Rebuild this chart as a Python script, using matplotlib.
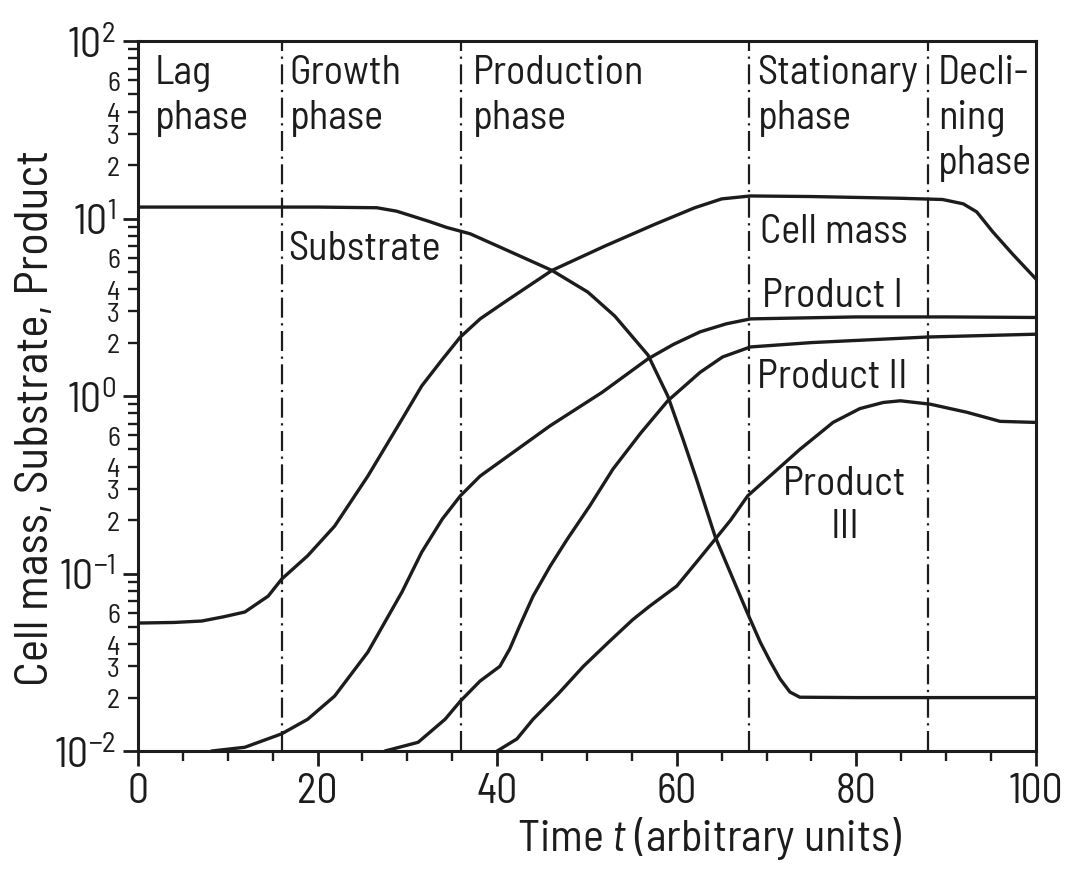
import matplotlib.pyplot as plt
from matplotlib import font_manager
from matplotlib.ticker import FixedLocator, FuncFormatter, LogLocator, MultipleLocator
import numpy as np

# narrow technical-drawing style face, first one that is installed
installed = {f.name for f in font_manager.fontManager.ttflist}
face = next(f for f in ['Barlow Semi Condensed', 'Barlow Condensed', 'Saira SemiCondensed',
                        'TeX Gyre Heros Cn', 'DejaVu Sans'] if f in installed)
plt.rcParams['font.family'] = [face, 'DejaVu Sans']
plt.rcParams['mathtext.fontset'] = 'custom'
plt.rcParams['mathtext.rm'] = face
plt.rcParams['mathtext.it'] = face + ':italic'

INK = '#1c1c1c'

# phase boundaries on the time axis
phase_bounds = [16, 36, 68, 88]
phase_names = ['Lag\nphase', 'Growth\nphase', 'Production\nphase',
               'Stationary\nphase', 'Decli-\nning\nphase']

# curves (time, value)
t_substrate = [0, 10, 20, 26.6, 28.8, 30.6, 32.5, 34.4, 37.0, 40.6, 46.1, 50.1, 53.1, 56.8,
               59.0, 60.7, 62.2, 64.3, 67.8, 69.3, 70.4, 71.5, 72.6, 73.7, 80, 90, 100]
substrate = [11.6, 11.6, 11.6, 11.5, 11.0, 10.3, 9.6, 8.9, 8.2, 6.8, 5.1, 3.85, 2.82, 1.7,
             1.0, 0.57, 0.34, 0.16, 0.061, 0.041, 0.032, 0.0255, 0.0215, 0.0201, 0.020,
             0.020, 0.020]

t_cell = [0, 4.0, 7.1, 9.5, 11.9, 14.5, 16.0, 18.9, 21.9, 25.6, 29.4, 31.6, 33.9, 35.9,
          38.1, 40.9, 46.1, 52.0, 57.6, 62.0, 65.0, 68.2, 75, 85, 89.6, 91.9, 93.4, 95.2,
          97.4, 100]
cell_mass = [0.0526, 0.053, 0.054, 0.057, 0.0607, 0.0746, 0.093, 0.126, 0.185, 0.354, 0.74,
             1.14, 1.61, 2.15, 2.72, 3.4, 5.1, 7.0, 9.3, 11.5, 12.9, 13.4, 13.3, 13.0, 12.8,
             12.1, 10.9, 8.4, 6.3, 4.56]

t_p1 = [8.2, 11.9, 16.0, 18.9, 21.9, 25.6, 29.4, 31.6, 33.9, 35.9, 38.1, 45.9, 51.7,
        56.8, 59.6, 62.6, 65.5, 68.2, 80, 90, 100]
product_1 = [0.01, 0.0105, 0.0125, 0.0151, 0.0204, 0.0361, 0.0787, 0.132, 0.203, 0.274,
             0.354, 0.68, 1.05, 1.62, 1.95, 2.30, 2.55, 2.72, 2.79, 2.79, 2.77]

t_p2 = [27.5, 31.2, 34.2, 35.9, 38.1, 40.3, 41.4, 42.5, 44.0, 45.9, 47.8, 50.3, 52.9,
        56.0, 59.0, 62.6, 65.1, 68.2, 75, 87.9, 100]
product_2 = [0.01, 0.0112, 0.0151, 0.0191, 0.0248, 0.030, 0.0376, 0.0506, 0.0746, 0.110,
             0.156, 0.24, 0.388, 0.62, 0.94, 1.36, 1.66, 1.89, 2.0, 2.15, 2.23]

t_p3 = [40.0, 42.2, 44.0, 46.8, 49.6, 52.4, 55.1, 57.0, 60.0, 62.2, 64.0, 66.0, 67.9, 70.8,
        73.7, 77.4, 80.4, 83.0, 84.9, 88.2, 92.3, 96.0, 100]
product_3 = [0.01, 0.0117, 0.0151, 0.021, 0.030, 0.041, 0.055, 0.0656, 0.085, 0.116, 0.150,
             0.20, 0.274, 0.37, 0.50, 0.71, 0.85, 0.92, 0.94, 0.90, 0.81, 0.72, 0.71]

fig = plt.figure(figsize=(10.72, 8.70), dpi=100)
ax = fig.add_axes([0.1287, 0.1356, 0.8377, 0.8161])

for t, v in [(t_substrate, substrate), (t_cell, cell_mass), (t_p1, product_1),
             (t_p2, product_2), (t_p3, product_3)]:
    ax.plot(t, v, color=INK, lw=2.4, solid_capstyle='round', solid_joinstyle='round')

for b in phase_bounds:
    ax.axvline(b, color=INK, lw=1.6, ls=(0, (9, 2.5, 1, 2.5)))

ax.set_yscale('log')
ax.set_xlim(0, 100)
ax.set_ylim(1e-2, 1e2)

# phase names along the top
lx = [1.9, 16.9, 37.3, 69.0, 89.1]
for x, name in zip(lx, phase_names):
    ax.text(x, 0.982, name, transform=ax.get_xaxis_transform(), ha='left', va='top',
            fontsize=29, color=INK, linespacing=1.28)

# curve labels
ax.text(16.7, 5.9, 'Substrate', fontsize=29, color=INK, va='baseline')
ax.text(69.3, 7.4, 'Cell mass', fontsize=29, color=INK, va='baseline')
ax.text(69.5, 3.2, 'Product I', fontsize=29, color=INK, va='baseline')
ax.text(68.9, 1.12, 'Product II', fontsize=29, color=INK, va='baseline')
ax.text(78.7, 0.28, 'Product', fontsize=29, color=INK, va='baseline', ha='center')
ax.text(78.7, 0.16, 'III', fontsize=29, color=INK, va='baseline', ha='center')

ax.xaxis.set_major_locator(MultipleLocator(20))
ax.xaxis.set_minor_locator(MultipleLocator(5))
ax.yaxis.set_major_locator(FixedLocator([1e-2, 1e-1, 1e0, 1e1, 1e2]))
ax.yaxis.set_minor_locator(LogLocator(base=10, subs=range(2, 10)))
ax.yaxis.set_major_formatter(FuncFormatter(
    lambda v, p: r'$\mathregular{10^{%d}}$' % round(np.log10(v))))


def minor_label(v, p):
    m = round(v / 10 ** np.floor(np.log10(v) + 1e-9))
    return str(m) if m in (2, 3, 4, 6) else ''


ax.yaxis.set_minor_formatter(FuncFormatter(minor_label))

ax.tick_params(which='major', length=11, width=2.0, color=INK, labelsize=30,
               labelcolor=INK, pad=5)
ax.tick_params(which='minor', length=7, width=1.7, color=INK, labelsize=20,
               labelcolor=INK, pad=6)
ax.tick_params(axis='x', which='major', pad=4)

for s in ax.spines.values():
    s.set_linewidth(2.2)
    s.set_color(INK)

ax.set_xlabel('Time $t$ (arbitrary units)', fontsize=32, color=INK)
ax.xaxis.set_label_coords(0.637, -0.088)
ax.set_ylabel('Cell mass, Substrate, Product', fontsize=34, color=INK)
ax.yaxis.set_label_coords(-0.09, 0.47)

fig.savefig('out.png', dpi=100, facecolor='white')
